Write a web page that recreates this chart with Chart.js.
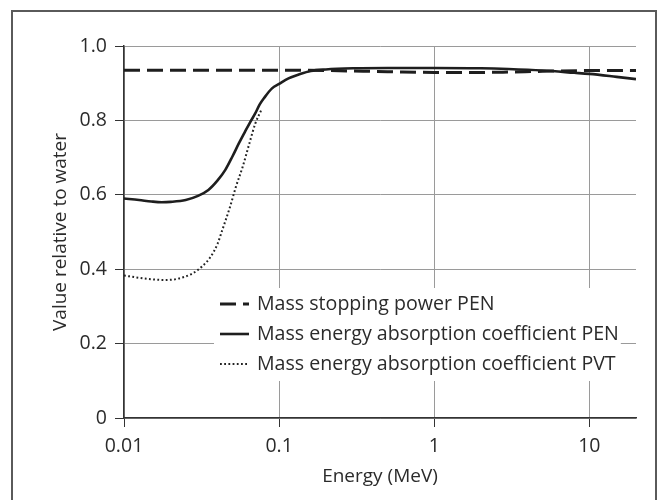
<!DOCTYPE html>
<html>
<head>
<meta charset="utf-8">
<title>Value relative to water</title>
<script src="https://cdn.jsdelivr.net/npm/chart.js@4.4.1/dist/chart.umd.min.js"></script>
<style>
    body { margin: 0; background: #fff; }
    #wrap { position: relative; width: 662px; height: 500px; overflow: hidden; }
    #frame {
        position: absolute; left: 11px; top: 10px;
        width: 642px; height: 600px;
        border: 2px solid #5a5a5a;
        pointer-events: none;
    }
    canvas { position: absolute; left: 0; top: 0; }
</style>
</head>
<body>
<div id="wrap">
    <canvas id="EnergyChart" width="662" height="500"></canvas>
    <div id="frame"></div>
</div>

<script>
// ---------------- Data ----------------
const xTicks = [0.01, 0.1, 1, 10];
const xTickLabels = ["0.01", "0.1", "1", "10"];
const yTickLabels = ["0", "0.2", "0.4", "0.6", "0.8", "1.0"];

const stoppingEnergy = [0.01, 0.03, 0.1, 0.2, 0.5, 1, 2, 3, 5, 10, 20];
const stoppingPEN    = [0.935, 0.935, 0.935, 0.934, 0.931, 0.929, 0.929, 0.930, 0.932, 0.934, 0.934];

const absorbEnergy = [0.01, 0.0125, 0.015, 0.0175, 0.02, 0.025, 0.03, 0.035, 0.04, 0.045, 0.05,
                      0.055, 0.06, 0.065, 0.07, 0.075, 0.08, 0.09, 0.1, 0.115, 0.135, 0.16, 0.2,
                      0.3, 0.5, 1, 2, 3, 5, 8, 10, 15, 20];
const absorbPEN    = [0.590, 0.586, 0.582, 0.580, 0.581, 0.586, 0.597, 0.613, 0.638, 0.667, 0.703,
                      0.738, 0.768, 0.795, 0.818, 0.843, 0.860, 0.886, 0.898, 0.913, 0.924, 0.933, 0.937,
                      0.940, 0.941, 0.941, 0.940, 0.938, 0.934, 0.928, 0.925, 0.917, 0.911];

const pvtEnergy = [0.01, 0.0125, 0.015, 0.0185, 0.022, 0.0275, 0.032, 0.036, 0.04, 0.043,
                   0.0483, 0.0527, 0.0582, 0.0643, 0.0703, 0.0776];
const absorbPVT = [0.383, 0.377, 0.373, 0.371, 0.374, 0.388, 0.408, 0.432, 0.467, 0.505,
                   0.568, 0.622, 0.675, 0.738, 0.792, 0.832];

const seriesLabels = [
    "Mass stopping power PEN",
    "Mass energy absorption coefficient PEN",
    "Mass energy absorption coefficient PVT"
];

const FONT = '"Open Sans", "Noto Sans", sans-serif';
const INK = "#2b2b2b";

function toPoints(xs, ys) {
    return xs.map((x, i) => ({ x: x, y: ys[i] }));
}


// ---------------- Legend drawn inside the plot ----------------
const insideLegend = {
    id: "insideLegend",
    afterDatasetsDraw(chart, args, opts) {
        const { ctx, chartArea } = chart;
        const datasets = chart.data.datasets;

        ctx.save();
        ctx.font = `${opts.fontSize}px ${FONT}`;

        const textW = Math.max(...datasets.map(d => ctx.measureText(d.label).width));
        const left = chartArea.left + opts.offsetX;
        const top = chartArea.top + opts.offsetY;
        const sampleX = left + 6;
        const textX = sampleX + opts.sampleLen + 8;
        const width = textX - left + textW + 2;
        const height = opts.rowGap * (datasets.length - 1) + 33;

        ctx.fillStyle = "#fff";
        ctx.fillRect(left, top, width, height);

        datasets.forEach((ds, i) => {
            const y = top + 16 + i * opts.rowGap;

            ctx.strokeStyle = ds.borderColor;
            ctx.lineWidth = ds.borderWidth;
            ctx.setLineDash(ds.borderDash || []);
            ctx.beginPath();
            ctx.moveTo(sampleX, y);
            ctx.lineTo(sampleX + opts.sampleLen, y);
            ctx.stroke();

            ctx.setLineDash([]);
            ctx.fillStyle = INK;
            ctx.textAlign = "left";
            ctx.textBaseline = "middle";
            ctx.fillText(ds.label, textX, y);
        });

        ctx.restore();
    }
};


// ---------------- Chart ----------------
function drawChart() {

    const ctx = document.getElementById("EnergyChart").getContext("2d");

    new Chart(ctx, {

        type: "line",

        data: {
            datasets: [
                {
                    label: seriesLabels[0],
                    data: toPoints(stoppingEnergy, stoppingPEN),
                    borderColor: "#1e1e1e",
                    borderWidth: 3,
                    borderDash: [16, 7],
                    pointRadius: 0,
                    cubicInterpolationMode: "monotone",
                    fill: false
                },
                {
                    label: seriesLabels[1],
                    data: toPoints(absorbEnergy, absorbPEN),
                    borderColor: "#1e1e1e",
                    borderWidth: 2.6,
                    pointRadius: 0,
                    cubicInterpolationMode: "monotone",
                    fill: false
                },
                {
                    label: seriesLabels[2],
                    data: toPoints(pvtEnergy, absorbPVT),
                    borderColor: "#222",
                    borderWidth: 2,
                    borderDash: [1.8, 2.4],
                    pointRadius: 0,
                    cubicInterpolationMode: "monotone",
                    fill: false
                }
            ]
        },

        options: {

            responsive: false,
            animation: false,
            devicePixelRatio: 1,

            layout: {
                padding: { top: 46, right: 26, left: 0, bottom: 0 }
            },

            scales: {

                x: {
                    type: "logarithmic",
                    min: 0.01,
                    max: 20,
                    afterBuildTicks: scale => {
                        scale.ticks = xTicks.map(v => ({ value: v }));
                    },
                    afterFit: scale => { scale.height = 82; },
                    grid: {
                        color: "#9a9a9a",
                        lineWidth: 1,
                        tickColor: "#333",
                        tickLength: 9
                    },
                    border: { color: "#333", width: 1.5 },
                    ticks: {
                        color: INK,
                        font: { family: FONT, size: 19.5 },
                        padding: 8,
                        maxRotation: 0,
                        autoSkip: false,
                        callback: (value, index) => xTickLabels[index]
                    },
                    title: {
                        display: true,
                        text: "Energy (MeV)",
                        color: INK,
                        font: { family: FONT, size: 19 },
                        padding: { top: 0, bottom: 12 }
                    }
                },

                y: {
                    type: "linear",
                    min: 0,
                    max: 1,
                    afterFit: scale => { scale.width = 124; },
                    grid: {
                        color: "#9a9a9a",
                        lineWidth: 1,
                        tickColor: "#333",
                        tickLength: 9
                    },
                    border: { color: "#333", width: 1.5 },
                    ticks: {
                        stepSize: 0.2,
                        color: INK,
                        font: { family: FONT, size: 19.5 },
                        padding: 8,
                        callback: (value, index) => yTickLabels[index]
                    },
                    title: {
                        display: true,
                        text: "Value relative to water",
                        color: INK,
                        font: { family: FONT, size: 19 },
                        padding: { top: 49, bottom: 0 }
                    }
                }

            },

            plugins: {
                legend: { display: false },
                tooltip: { enabled: false },
                insideLegend: {
                    offsetX: 90,
                    offsetY: 242,
                    sampleLen: 29,
                    rowGap: 30,
                    fontSize: 19.6
                }
            }

        },

        plugins: [insideLegend]

    });

}

document.addEventListener("DOMContentLoaded", drawChart);
</script>
</body>
</html>
